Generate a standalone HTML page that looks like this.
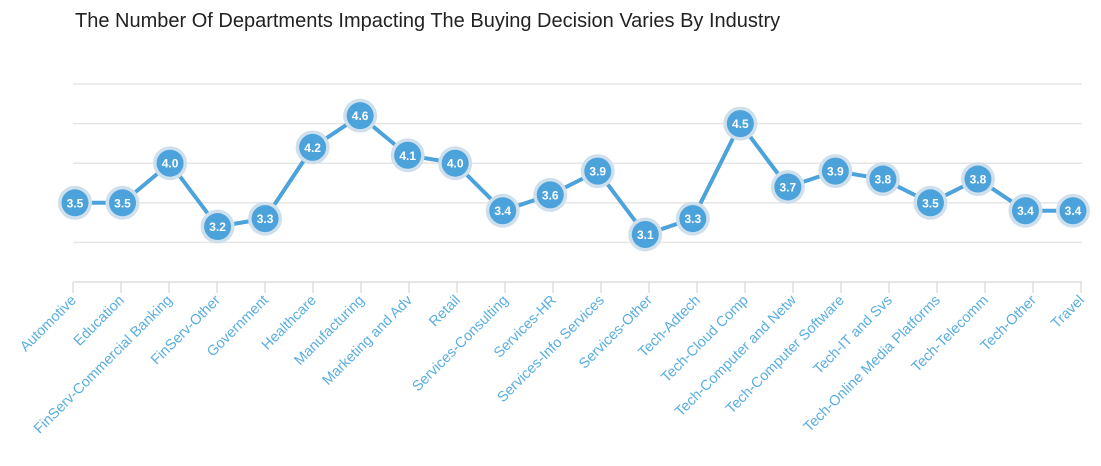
<!DOCTYPE html>
<html><head><meta charset="utf-8"><style>
body{margin:0;background:#fff;width:1101px;height:466px;overflow:hidden}
svg{display:block;font-family:"Liberation Sans",sans-serif}
</style></head><body>
<svg id="chart" width="1101" height="466">
<text x="75" y="27" font-size="20" fill="#222">The Number Of Departments Impacting The Buying Decision Varies By Industry</text>
<g id="grid"></g><g id="xaxis"></g><g id="series"></g>
</svg>
<script>
const categories=["Automotive","Education","FinServ-Commercial Banking","FinServ-Other","Government","Healthcare","Manufacturing","Marketing and Adv","Retail","Services-Consulting","Services-HR","Services-Info Services","Services-Other","Tech-Adtech","Tech-Cloud Comp","Tech-Computer and Netw","Tech-Computer Software","Tech-IT and Svs","Tech-Online Media Platforms","Tech-Telecomm","Tech-Other","Travel"];
const values=[3.5,3.5,4.0,3.2,3.3,4.2,4.6,4.1,4.0,3.4,3.6,3.9,3.1,3.3,4.5,3.7,3.9,3.8,3.5,3.8,3.4,3.4];
const yTicks=[3.0,3.5,4.0,4.5,5.0];
const NS="http://www.w3.org/2000/svg";
const yMin=2.5,yMax=5.0,yBot=282,yTop=84;
function y(v){return yBot-(v-yMin)/(yMax-yMin)*(yBot-yTop);}
function x(i){return 75+i*(1073-75)/(categories.length-1);}
function tickX(i){return 73+i*48;}
function mk(t,a,p){const e=document.createElementNS(NS,t);for(const k in a)e.setAttribute(k,a[k]);p.appendChild(e);return e;}
const grid=document.getElementById('grid'),xa=document.getElementById('xaxis'),se=document.getElementById('series');
yTicks.forEach(v=>{const l=mk('line',{x1:73,x2:1082,y1:y(v),y2:y(v),stroke:'#e6e6e6','stroke-width':1.5},grid);

});
const base=mk('line',{x1:73,x2:1082,y1:yBot,y2:yBot,stroke:'#ddd','stroke-width':1.5},xa);


categories.forEach((c,i)=>{
 const tk=mk('line',{x1:tickX(i),x2:tickX(i),y1:yBot,y2:yBot+11,stroke:'#ddd','stroke-width':1.5},xa);
 
 
 const lx=tickX(i)+4,ly=yBot+19;
 const t=mk('text',{x:lx,y:ly,'font-size':14.5,fill:'#5aaee0','text-anchor':'end',transform:`rotate(-45 ${lx} ${ly})`},xa);
 t.textContent=c;
 
 
});
const pts=values.map((v,i)=>x(i)+','+y(v)).join(' ');
const pl=mk('polyline',{points:pts,fill:'none',stroke:'#4ca3dc','stroke-width':4},se);


values.forEach((v,i)=>{
 const g=mk('g',{},se);
 
 
 mk('circle',{cx:x(i),cy:y(v),r:17,fill:'#cfe0ec'},g);
 mk('circle',{cx:x(i),cy:y(v),r:13.5,fill:'#4ca3dc'},g);
 const t=mk('text',{x:x(i),y:y(v)+4.5,'font-size':12,'font-weight':'bold',fill:'#fff','text-anchor':'middle'},g);
 t.textContent=v.toFixed(1);
 
 
});
</script>
</body></html>
